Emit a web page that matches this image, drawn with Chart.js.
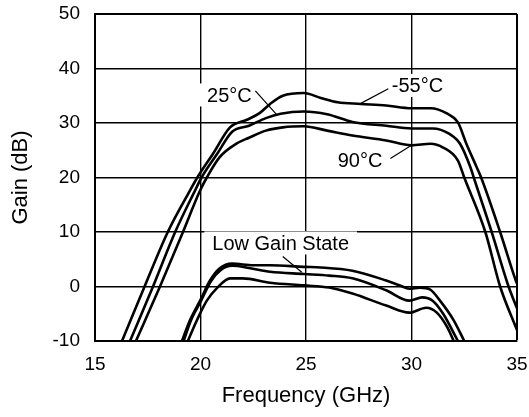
<!DOCTYPE html>
<html>
<head>
<meta charset="utf-8">
<script src="https://cdn.jsdelivr.net/npm/chart.js@4.4.1/dist/chart.umd.min.js"></script>
<style>
    html, body { margin: 0; padding: 0; background: #fff; }
    #wrap { width: 529px; height: 417px; }
</style>
</head>
<body>
<div id="wrap"><canvas id="chartCanvas" width="529" height="417"></canvas></div>
<script>
// high gain state curves, [frequency GHz, gain dB]
const highM55 = [[16.28,-10],[17.35,0],[18.45,10],[19.5,17.6],[19.85,20],[20.6,24.4],[21.4,29.2],[22.2,30.6],[22.8,31.8],[23.3,33.5],[23.9,35.0],[24.9,35.5],[25.7,34.6],[26.5,33.8],[27.6,33.5],[28.8,33.2],[30,32.7],[30.9,32.7],[31.7,31.7],[32.2,30.1],[32.6,26.2],[33.1,21.8],[33.3,20],[34.2,10],[34.95,1],[35,0.5]];
const high25 = [[16.66,-10],[17.75,0],[18.8,10],[19.74,17.6],[20.05,20],[20.8,24.4],[21.5,28.4],[22.3,29.5],[23.1,30.9],[23.8,31.7],[24.9,32.1],[26.0,31.6],[27.2,30.2],[28.8,29.5],[30,29],[31,29],[31.8,28],[32.3,26.2],[32.8,21.8],[32.95,20],[33.8,10],[34.6,0],[35,-4]];
const high90 = [[16.94,-10],[18.08,0],[19.17,10],[19.98,17.6],[20.3,20],[20.9,23.7],[21.7,26.2],[22.3,27.3],[23.1,28.6],[23.9,29.2],[24.9,29.4],[26,28.6],[27.2,27.7],[28.8,26.8],[30,25.9],[30.9,26.2],[31.5,25.5],[32.2,23.1],[32.5,20],[33.5,10],[34.2,0],[35,-8]];

// low gain state curves
const lowTop = [[19.12,-10],[19.5,-6.2],[19.98,-2.6],[20.45,1.1],[20.9,3.3],[21.5,4.2],[22.5,3.9],[23.3,3.9],[24.9,3.6],[25.7,3.5],[27.2,2.9],[28.8,1.1],[29.45,0.2],[29.9,-0.4],[30.4,-0.2],[30.9,-0.6],[31.35,-2.6],[32,-6.2],[32.5,-10]];
const lowMid = [[19.2,-10],[19.55,-6.2],[20.03,-2.6],[20.5,1.0],[20.95,3.0],[21.5,3.8],[22.3,3.4],[23.3,2.7],[24.9,2.3],[26.1,2.0],[27.2,1.5],[28.8,-0.7],[29.9,-2.6],[30.5,-2.0],[31,-2.6],[31.5,-5],[32.2,-10]];
const lowBot = [[19.4,-10],[19.83,-6.2],[20.3,-2.6],[20.8,-0.2],[21.4,1.5],[22,1.5],[23.3,0.7],[24.9,0.2],[26.1,-0.2],[27.2,-1.3],[28.8,-3.5],[29.9,-4.8],[30.7,-3.9],[31.2,-4.8],[31.7,-7.5],[32,-10]];

// annotations
const labelTexts = ['25°C', '-55°C', '90°C', 'Low Gain State'];
const labelX = [21.37, 30.28, 27.56, 23.8];
const labelY = [35.05, 36.8, 23.2, 7.9];
const leaders = [
    [[22.6,35.9],[23.6,31.6]],
    [[28.9,36.3],[27.6,33.6]],
    [[29.0,23.5],[30.0,25.9]],
    [[23.9,5.5],[24.8,2.6]]
];

const xTicks = [15, 20, 25, 30, 35];
const yTicks = [-10, 0, 10, 20, 30, 40, 50];

const toPts = arr => arr.map(p => ({ x: p[0], y: p[1] }));

let datasets = [highM55, high25, high90, lowTop, lowMid, lowBot].map(c => ({
    data: toPts(c),
    borderColor: '#000',
    borderWidth: 2.6,
    pointRadius: 0,
    cubicInterpolationMode: 'monotone',
    fill: false
}));
leaders.forEach(l => {
    datasets.push({
        data: toPts(l),
        borderColor: '#000',
        borderWidth: 1.2,
        pointRadius: 0,
        tension: 0,
        fill: false
    });
});

const labelPlugin = {
    id: 'curveLabels',
    beforeDatasetsDraw(chart) {
        const ctx = chart.ctx;
        const xs = chart.scales.x, ys = chart.scales.y;
        ctx.save();
        ctx.font = '20px "Liberation Sans", Arial, sans-serif';
        ctx.textAlign = 'center';
        ctx.textBaseline = 'middle';
        labelTexts.forEach((t, i) => {
            const px = xs.getPixelForValue(labelX[i]);
            const py = ys.getPixelForValue(labelY[i]);
            const w = ctx.measureText(t).width;
            ctx.fillStyle = '#fff';
            ctx.fillRect(px - w / 2 - 8, py - 12, w + 16, 23);
            ctx.fillStyle = '#000';
            ctx.fillText(t, px, py + 1);
        });
        ctx.restore();
    }
};

new Chart(document.getElementById('chartCanvas').getContext('2d'), {
    type: 'line',
    data: { datasets: datasets },
    plugins: [labelPlugin],
    options: {
        responsive: false,
        animation: false,
        events: [],
        layout: { padding: { left: 0, right: 12, top: 14, bottom: 0 } },
        plugins: { legend: { display: false }, tooltip: { enabled: false } },
        scales: {
            x: {
                type: 'linear',
                min: 15, max: 35,
                afterBuildTicks: s => { s.ticks = xTicks.map(v => ({ value: v })); },
                afterFit: s => { s.height = 76; s.paddingLeft = 0; s.paddingRight = 0; },
                grid: {
                    color: '#000',
                    lineWidth: c => (c.tick && (c.tick.value === 35)) ? 2 : 1.4,
                    drawTicks: false
                },
                border: { color: '#000', width: 2 },
                ticks: {
                    color: '#000',
                    padding: 12,
                    font: { family: '"Liberation Sans", Arial, sans-serif', size: 19 }
                },
                title: {
                    display: true,
                    text: 'Frequency (GHz)',
                    color: '#000',
                    font: { family: '"Liberation Sans", Arial, sans-serif', size: 22 },
                    padding: { top: 0, bottom: 8 }
                }
            },
            y: {
                type: 'linear',
                min: -10, max: 50,
                afterBuildTicks: s => { s.ticks = yTicks.map(v => ({ value: v })); },
                afterFit: s => { s.width = 95; s.paddingTop = 0; s.paddingBottom = 0; },
                grid: {
                    color: '#000',
                    lineWidth: c => (c.tick && (c.tick.value === 50)) ? 2 : 1.4,
                    drawTicks: false
                },
                border: { color: '#000', width: 2 },
                ticks: {
                    color: '#000',
                    padding: 15,
                    font: { family: '"Liberation Sans", Arial, sans-serif', size: 19 }
                },
                title: {
                    display: true,
                    text: 'Gain (dB)',
                    color: '#000',
                    font: { family: '"Liberation Sans", Arial, sans-serif', size: 22 },
                    padding: { top: 8, bottom: 0 }
                }
            }
        }
    }
});
</script>
</body>
</html>
